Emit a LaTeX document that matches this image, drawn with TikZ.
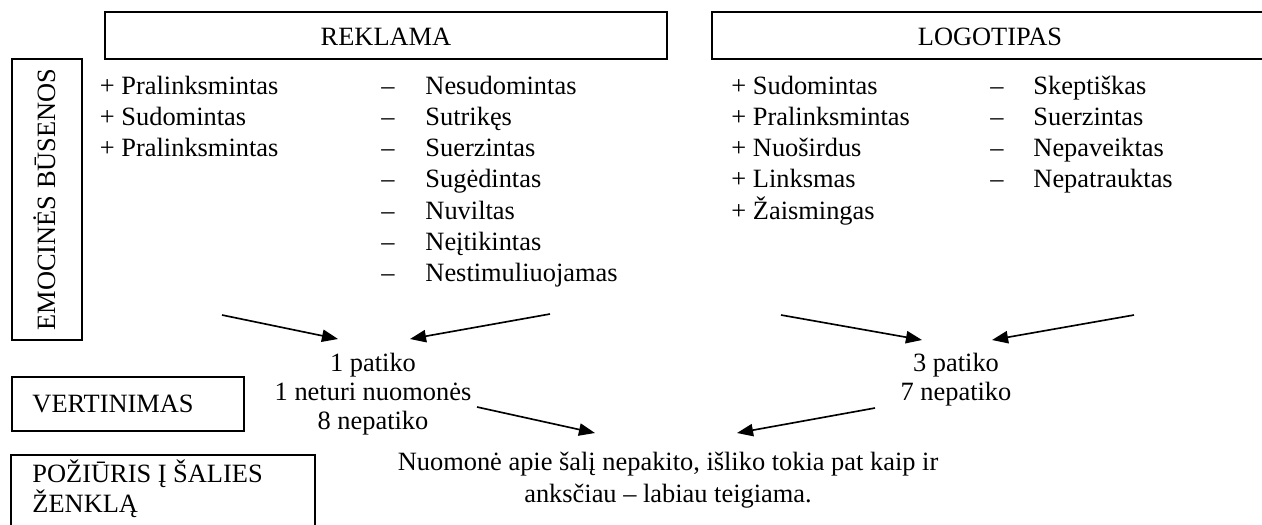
\documentclass[tikz,border=0pt]{standalone}
\usepackage{fontspec}
\setmainfont{Liberation Serif}
\usetikzlibrary{arrows.meta,fit}
\begin{document}
\begin{tikzpicture}[x=0.4545pt,y=-0.4545pt,
  every node/.style={font=\fontsize{12}{14}\selectfont, inner sep=0pt},
  frame/.style={draw, line width=0.8pt, inner sep=0pt},
  item/.style={anchor=base west},
  mid/.style={anchor=base},
  arr/.style={line width=0.75pt, -{Triangle[length=7.3pt,width=5.6pt]}}]
\useasboundingbox (0,0) rectangle (1262,524);
\clip (0,0) rectangle (1262,524);

% frames
\node[frame, fit={(105,12) (667,59)}] (reklamabox) {};
\node[frame, fit={(712,12) (1268,59)}] (logobox) {};
\node[frame, fit={(12,59) (82,340)}] (emobox) {};
\node[frame, fit={(12,377) (244,431)}] (vertbox) {};
\node[frame, fit={(11,455) (315,540)}] (pozbox) {};

% frame titles
\node[mid] (reklama) at (386,45) {REKLAMA};
\node[mid] (logo) at (990,45) {LOGOTIPAS};
\node[rotate=90, anchor=base] (emo) at (55,199.5) {EMOCINĖS BŪSENOS};
\node[item] (vert) at (32,412) {VERTINIMAS};
\node[item] (poz1) at (32,482) {POŽIŪRIS Į ŠALIES};
\node[item] (poz2) at (32,512) {ŽENKLĄ};

% advertisement: positive and negative states
\foreach \t [count=\i from 0] in {Pralinksmintas, Sudomintas, Pralinksmintas}
  \node[item] (rp\i) at (99.5,94+31.3*\i) {+ \t};
\foreach \t [count=\i from 0] in {Nesudomintas, Sutrikęs, Suerzintas, Sugėdintas, Nuviltas, Neįtikintas, Nestimuliuojamas}{
  \node[item] (rmd\i) at (381,94+31.3*\i) {–};
  \node[item] (rm\i) at (425,94+31.3*\i) {\t};
}

% logo: positive and negative states
\foreach \t [count=\i from 0] in {Sudomintas, Pralinksmintas, Nuoširdus, Linksmas, Žaismingas}
  \node[item] (lp\i) at (731,94+31.3*\i) {+ \t};
\foreach \t [count=\i from 0] in {Skeptiškas, Suerzintas, Nepaveiktas, Nepatrauktas}{
  \node[item] (lmd\i) at (990,94+31.3*\i) {–};
  \node[item] (lm\i) at (1033,94+31.3*\i) {\t};
}

% ratings
\node[mid] (r1) at (373,371) {1 patiko};
\node[mid] (r2) at (373,400) {1 neturi nuomonės};
\node[mid] (r3) at (373,429) {8 nepatiko};
\node[mid] (l1) at (956,371) {3 patiko};
\node[mid] (l2) at (956,400) {7 nepatiko};

% attitude
\node[mid] (att1) at (668,470) {Nuomonė apie šalį nepakito, išliko tokia pat kaip ir};
\node[mid] (att2) at (668,502) {anksčiau – labiau teigiama.};

% arrow end points
\coordinate (a1s) at (222,315); \coordinate (a1e) at (338,339);
\coordinate (a2s) at (550,314); \coordinate (a2e) at (410,339);
\coordinate (a3s) at (477,407); \coordinate (a3e) at (595,433);
\coordinate (a4s) at (875,408); \coordinate (a4e) at (737,433);
\coordinate (a5s) at (781,315); \coordinate (a5e) at (922,340);
\coordinate (a6s) at (1134,315); \coordinate (a6e) at (992,340);

\draw[arr] (a1s) -- (a1e);
\draw[arr] (a2s) -- (a2e);
\draw[arr] (a3s) -- (a3e);
\draw[arr] (a4s) -- (a4e);
\draw[arr] (a5s) -- (a5e);
\draw[arr] (a6s) -- (a6e);
\end{tikzpicture}
\end{document}
